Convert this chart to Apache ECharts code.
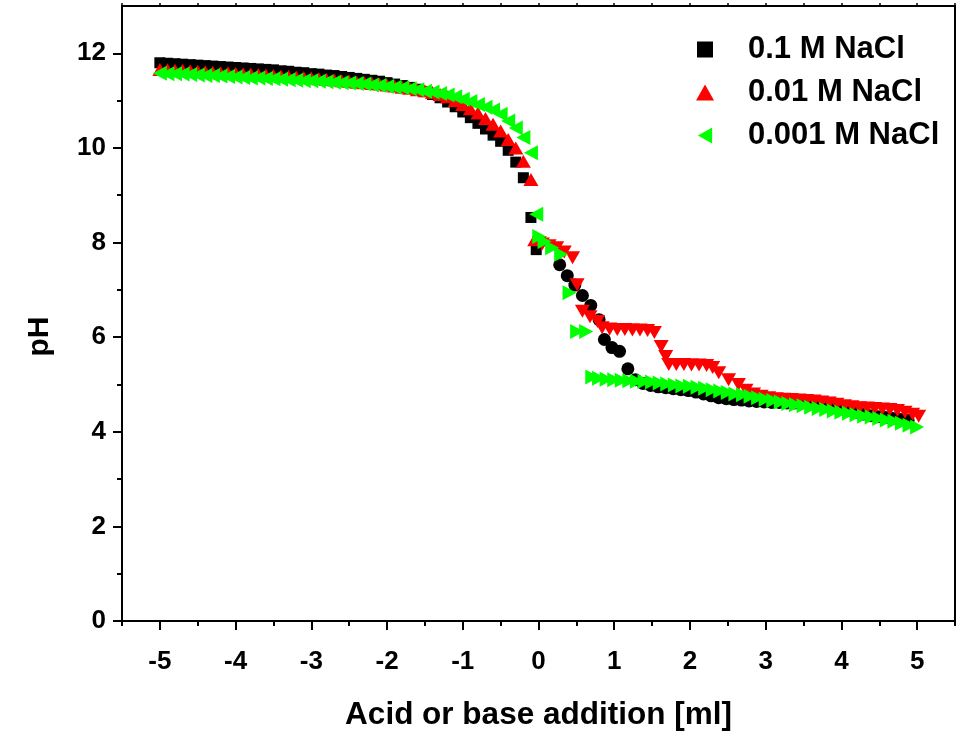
<!DOCTYPE html>
<html>
<head>
<meta charset="utf-8">
<title>pH titration</title>
<script src="https://cdn.jsdelivr.net/npm/echarts@6/dist/echarts.min.js"></script>
<style>
html, body { margin: 0; padding: 0; background: #fff; }
#main { width: 972px; height: 731px; }
</style>
</head>
<body>
<div id="main"></div>
<script>
// legend names
var seriesNames = ['0.1 M NaCl', '0.01 M NaCl', '0.001 M NaCl'];

// tick labels
var xMajor = [-5, -4, -3, -2, -1, 0, 1, 2, 3, 4, 5];
var xMinor = [-5.5, -4.5, -3.5, -2.5, -1.5, -0.5, 0.5, 1.5, 2.5, 3.5, 4.5, 5.5];
var yMajor = [0, 2, 4, 6, 8, 10, 12];
var yMinor = [1, 3, 5, 7, 9, 11];

// acid side (same volumes for all three runs)
var acidX = [-5.0, -4.9, -4.8, -4.7, -4.6, -4.5, -4.4, -4.3, -4.2, -4.1,
             -4.0, -3.9, -3.8, -3.7, -3.6, -3.5, -3.4, -3.3, -3.2, -3.1,
             -3.0, -2.9, -2.8, -2.7, -2.6, -2.5, -2.4, -2.3, -2.2, -2.1,
             -2.0, -1.9, -1.8, -1.7, -1.6, -1.5, -1.4, -1.3, -1.2, -1.1,
             -1.0, -0.9, -0.8, -0.7, -0.6, -0.5, -0.4, -0.3, -0.2, -0.1];

// 0.1 M NaCl
var blackAcidY = [11.80, 11.79, 11.78, 11.77, 11.76, 11.75, 11.74, 11.73, 11.72, 11.71,
                  11.70, 11.69, 11.68, 11.67, 11.66, 11.65, 11.63, 11.62, 11.60, 11.59,
                  11.57, 11.56, 11.54, 11.53, 11.51, 11.49, 11.47, 11.45, 11.43, 11.41,
                  11.38, 11.35, 11.32, 11.28, 11.24, 11.19, 11.13, 11.06, 10.97, 10.87,
                  10.76, 10.64, 10.52, 10.40, 10.27, 10.14, 9.95, 9.70, 9.37, 8.53];
var blackMidX = [-0.03];
var blackMidY = [7.85];
var blackBaseX = [0.28, 0.38, 0.48, 0.58, 0.69, 0.80, 0.87, 0.97, 1.07, 1.18,
                  1.28, 1.38, 1.48, 1.58, 1.68, 1.78, 1.88, 1.98,
                  2.08, 2.18, 2.28, 2.38, 2.48, 2.58, 2.68, 2.78, 2.88, 2.98,
                  3.08, 3.18, 3.28, 3.38, 3.48, 3.58, 3.68, 3.78, 3.88, 3.98,
                  4.08, 4.18, 4.28, 4.38, 4.48, 4.58, 4.68, 4.78, 4.88];
var blackBaseY = [7.53, 7.30, 7.10, 6.88, 6.67, 6.37, 5.95, 5.78, 5.70, 5.33,
                  5.10, 5.02, 4.98, 4.95, 4.93, 4.91, 4.89, 4.87,
                  4.84, 4.80, 4.76, 4.72, 4.70, 4.68, 4.67, 4.65, 4.64, 4.63,
                  4.62, 4.62, 4.61, 4.61, 4.61, 4.61, 4.61, 4.62, 4.55, 4.50,
                  4.45, 4.41, 4.37, 4.34, 4.32, 4.30, 4.28, 4.26, 4.24];

// 0.01 M NaCl
var redAcidY = [11.66, 11.65, 11.64, 11.64, 11.63, 11.62, 11.61, 11.60, 11.59, 11.59,
                11.58, 11.57, 11.56, 11.55, 11.54, 11.53, 11.52, 11.51, 11.50, 11.49,
                11.48, 11.46, 11.45, 11.44, 11.42, 11.41, 11.39, 11.38, 11.36, 11.35,
                11.33, 11.31, 11.28, 11.26, 11.23, 11.21, 11.17, 11.13, 11.08, 11.00,
                10.92, 10.83, 10.74, 10.62, 10.50, 10.36, 10.18, 10.00, 9.72, 9.33];
var redMidX = [-0.05];
var redMidY = [8.06];
var redBaseX = [0.01, 0.05, 0.14, 0.24, 0.34, 0.45, 0.51, 0.58, 0.68, 0.78,
                0.84, 0.94, 1.04, 1.14, 1.24, 1.34, 1.44, 1.53, 1.62, 1.68,
                1.72, 1.82, 1.92, 2.02, 2.12, 2.22, 2.30, 2.38, 2.51, 2.64,
                2.74, 2.84, 2.94, 3.04, 3.14, 3.24, 3.34, 3.44, 3.54, 3.64,
                3.74, 3.84, 3.94, 4.04, 4.14, 4.24, 4.34, 4.44, 4.54, 4.64,
                4.74, 4.84, 4.94, 5.02];
var redBaseY = [8.00, 7.97, 7.93, 7.89, 7.80, 7.68, 7.11, 6.55, 6.43, 6.33,
                6.20, 6.17, 6.16, 6.16, 6.15, 6.15, 6.14, 6.10, 5.80, 5.59,
                5.42, 5.42, 5.42, 5.41, 5.41, 5.40, 5.36, 5.25, 5.10, 5.00,
                4.88, 4.80, 4.75, 4.72, 4.70, 4.69, 4.68, 4.67, 4.66, 4.65,
                4.63, 4.61, 4.58, 4.55, 4.53, 4.51, 4.50, 4.49, 4.48, 4.47,
                4.45, 4.41, 4.37, 4.33];

// 0.001 M NaCl
var greenAcidY = [11.58, 11.57, 11.57, 11.56, 11.55, 11.54, 11.53, 11.53, 11.52, 11.51,
                  11.50, 11.49, 11.48, 11.48, 11.47, 11.46, 11.45, 11.44, 11.43, 11.42,
                  11.42, 11.41, 11.40, 11.39, 11.38, 11.37, 11.36, 11.35, 11.33, 11.32,
                  11.30, 11.28, 11.27, 11.25, 11.23, 11.20, 11.18, 11.15, 11.12, 11.08,
                  11.03, 10.98, 10.92, 10.86, 10.80, 10.71, 10.57, 10.42, 10.22, 9.90];
var greenMidX = [-0.03];
var greenMidY = [8.60];
var greenBaseX = [0.01, 0.08, 0.18, 0.30, 0.41, 0.51, 0.63, 0.71,
                  0.8, 0.9, 1.0, 1.1, 1.2, 1.3, 1.4, 1.5, 1.6, 1.7, 1.8, 1.9,
                  2.0, 2.1, 2.2, 2.3, 2.4, 2.5, 2.6, 2.7, 2.8, 2.9,
                  3.0, 3.1, 3.2, 3.3, 3.4, 3.5, 3.6, 3.7, 3.8, 3.9,
                  4.0, 4.1, 4.2, 4.3, 4.4, 4.5, 4.6, 4.7, 4.8, 4.9, 5.0];
var greenBaseY = [8.13, 8.02, 7.89, 7.75, 6.94, 6.12, 6.12, 5.16,
                  5.13, 5.11, 5.10, 5.09, 5.08, 5.07, 5.06, 5.05, 5.03, 5.01, 4.99, 4.97,
                  4.96, 4.94, 4.92, 4.89, 4.86, 4.83, 4.80, 4.78, 4.75, 4.72,
                  4.69, 4.66, 4.63, 4.60, 4.57, 4.55, 4.52, 4.49, 4.47, 4.44,
                  4.41, 4.39, 4.36, 4.33, 4.31, 4.28, 4.25, 4.22, 4.18, 4.14, 4.10];

var fontName = '"Liberation Sans", Arial, sans-serif';

// pair up x / y lists into scatter items
function pts(xs, ys, extra) {
    var out = [];
    for (var i = 0; i < xs.length; i++) {
        var item = { value: [xs[i], ys[i]] };
        if (extra) {
            for (var k in extra) item[k] = extra[k];
        }
        out.push(item);
    }
    return out;
}

var myChart = echarts.init(document.getElementById('main'), null, { renderer: 'canvas' });

var axisLine = { show: true, onZero: false, lineStyle: { color: '#000', width: 2 } };
var noLine = { show: false, onZero: false };

var option = {
    backgroundColor: '#fff',
    animation: false,
    grid: { left: 122, right: 17, top: 6, bottom: 110, containLabel: false, outerBoundsMode: 'none' },
    legend: {
        orient: 'vertical',
        left: 691,
        top: 29,
        itemWidth: 20,
        itemHeight: 16,
        itemGap: 12,
        data: [
            { name: seriesNames[0], icon: 'path://M0,0 L10,0 L10,10 L0,10 Z' },
            { name: seriesNames[1], icon: 'path://M9,0 L18,16 L0,16 Z' },
            { name: seriesNames[2], icon: 'path://M0,9 L16,0 L16,18 Z' }
        ],
        textStyle: {
            color: '#000', fontSize: 31, fontWeight: 'bold', fontFamily: fontName,
            padding: [0, 0, 0, 28]
        }
    },
    xAxis: [{
        type: 'value', min: -5.5, max: 5.5, position: 'bottom',
        axisLine: axisLine,
        axisTick: { show: true, customValues: xMajor, length: 9, lineStyle: { color: '#000', width: 2 } },
        axisLabel: { customValues: xMajor, color: '#000', fontSize: 26, fontWeight: 'bold', fontFamily: fontName, margin: 28 },
        splitLine: { show: false },
        name: 'Acid or base addition [ml]',
        nameLocation: 'middle',
        nameGap: 78,
        nameTextStyle: { color: '#000', fontSize: 31.5, fontWeight: 'bold', fontFamily: fontName }
    }, {
        type: 'value', min: -5.5, max: 5.5, position: 'bottom',
        axisLine: noLine,
        axisTick: { show: true, customValues: xMinor, length: 5, lineStyle: { color: '#000', width: 2 } },
        axisLabel: { show: false },
        splitLine: { show: false }
    }, {
        type: 'value', min: -5.5, max: 5.5, position: 'top',
        axisLine: axisLine,
        axisTick: { show: true, customValues: xMajor.concat(xMinor), length: 3, lineStyle: { color: '#000', width: 1.5 } },
        axisLabel: { show: false },
        splitLine: { show: false }
    }],
    yAxis: [{
        type: 'value', min: 0, max: 13, position: 'left',
        axisLine: axisLine,
        axisTick: { show: true, customValues: yMajor, length: 9, lineStyle: { color: '#000', width: 2 } },
        axisLabel: { customValues: yMajor, color: '#000', fontSize: 26, fontWeight: 'bold', fontFamily: fontName, margin: 16 },
        splitLine: { show: false },
        name: 'pH',
        nameLocation: 'middle',
        nameGap: 67,
        nameTextStyle: { color: '#000', fontSize: 30, fontWeight: 'bold', fontFamily: fontName, padding: [0, 46, 0, 0] }
    }, {
        type: 'value', min: 0, max: 13, position: 'left',
        axisLine: noLine,
        axisTick: { show: true, customValues: yMinor, length: 5, lineStyle: { color: '#000', width: 2 } },
        axisLabel: { show: false },
        splitLine: { show: false }
    }, {
        type: 'value', min: 0, max: 13, position: 'right',
        axisLine: axisLine,
        axisTick: { show: false },
        axisLabel: { show: false },
        splitLine: { show: false }
    }],
    series: [{
        name: seriesNames[0],
        type: 'scatter',
        symbol: 'rect',
        symbolSize: 11,
        itemStyle: { color: '#000', opacity: 1 },
        data: pts(acidX, blackAcidY)
            .concat(pts(blackMidX, blackMidY))
            .concat(pts(blackBaseX, blackBaseY, { symbol: 'circle', symbolSize: 13 }))
    }, {
        name: seriesNames[1],
        type: 'scatter',
        symbol: 'triangle',
        symbolSize: [15, 13],
        itemStyle: { color: '#ff0000', opacity: 1 },
        data: pts(acidX, redAcidY)
            .concat(pts(redMidX, redMidY))
            .concat(pts(redBaseX, redBaseY, { symbolRotate: 180 }))
    }, {
        name: seriesNames[2],
        type: 'scatter',
        symbol: 'triangle',
        symbolSize: [15, 14],
        itemStyle: { color: '#00ff00', opacity: 1 },
        data: pts(acidX, greenAcidY, { symbolRotate: 90 })
            .concat(pts(greenMidX, greenMidY, { symbolRotate: 90 }))
            .concat(pts(greenBaseX, greenBaseY, { symbolRotate: -90 }))
    }]
};

myChart.setOption(option);
</script>
</body>
</html>
